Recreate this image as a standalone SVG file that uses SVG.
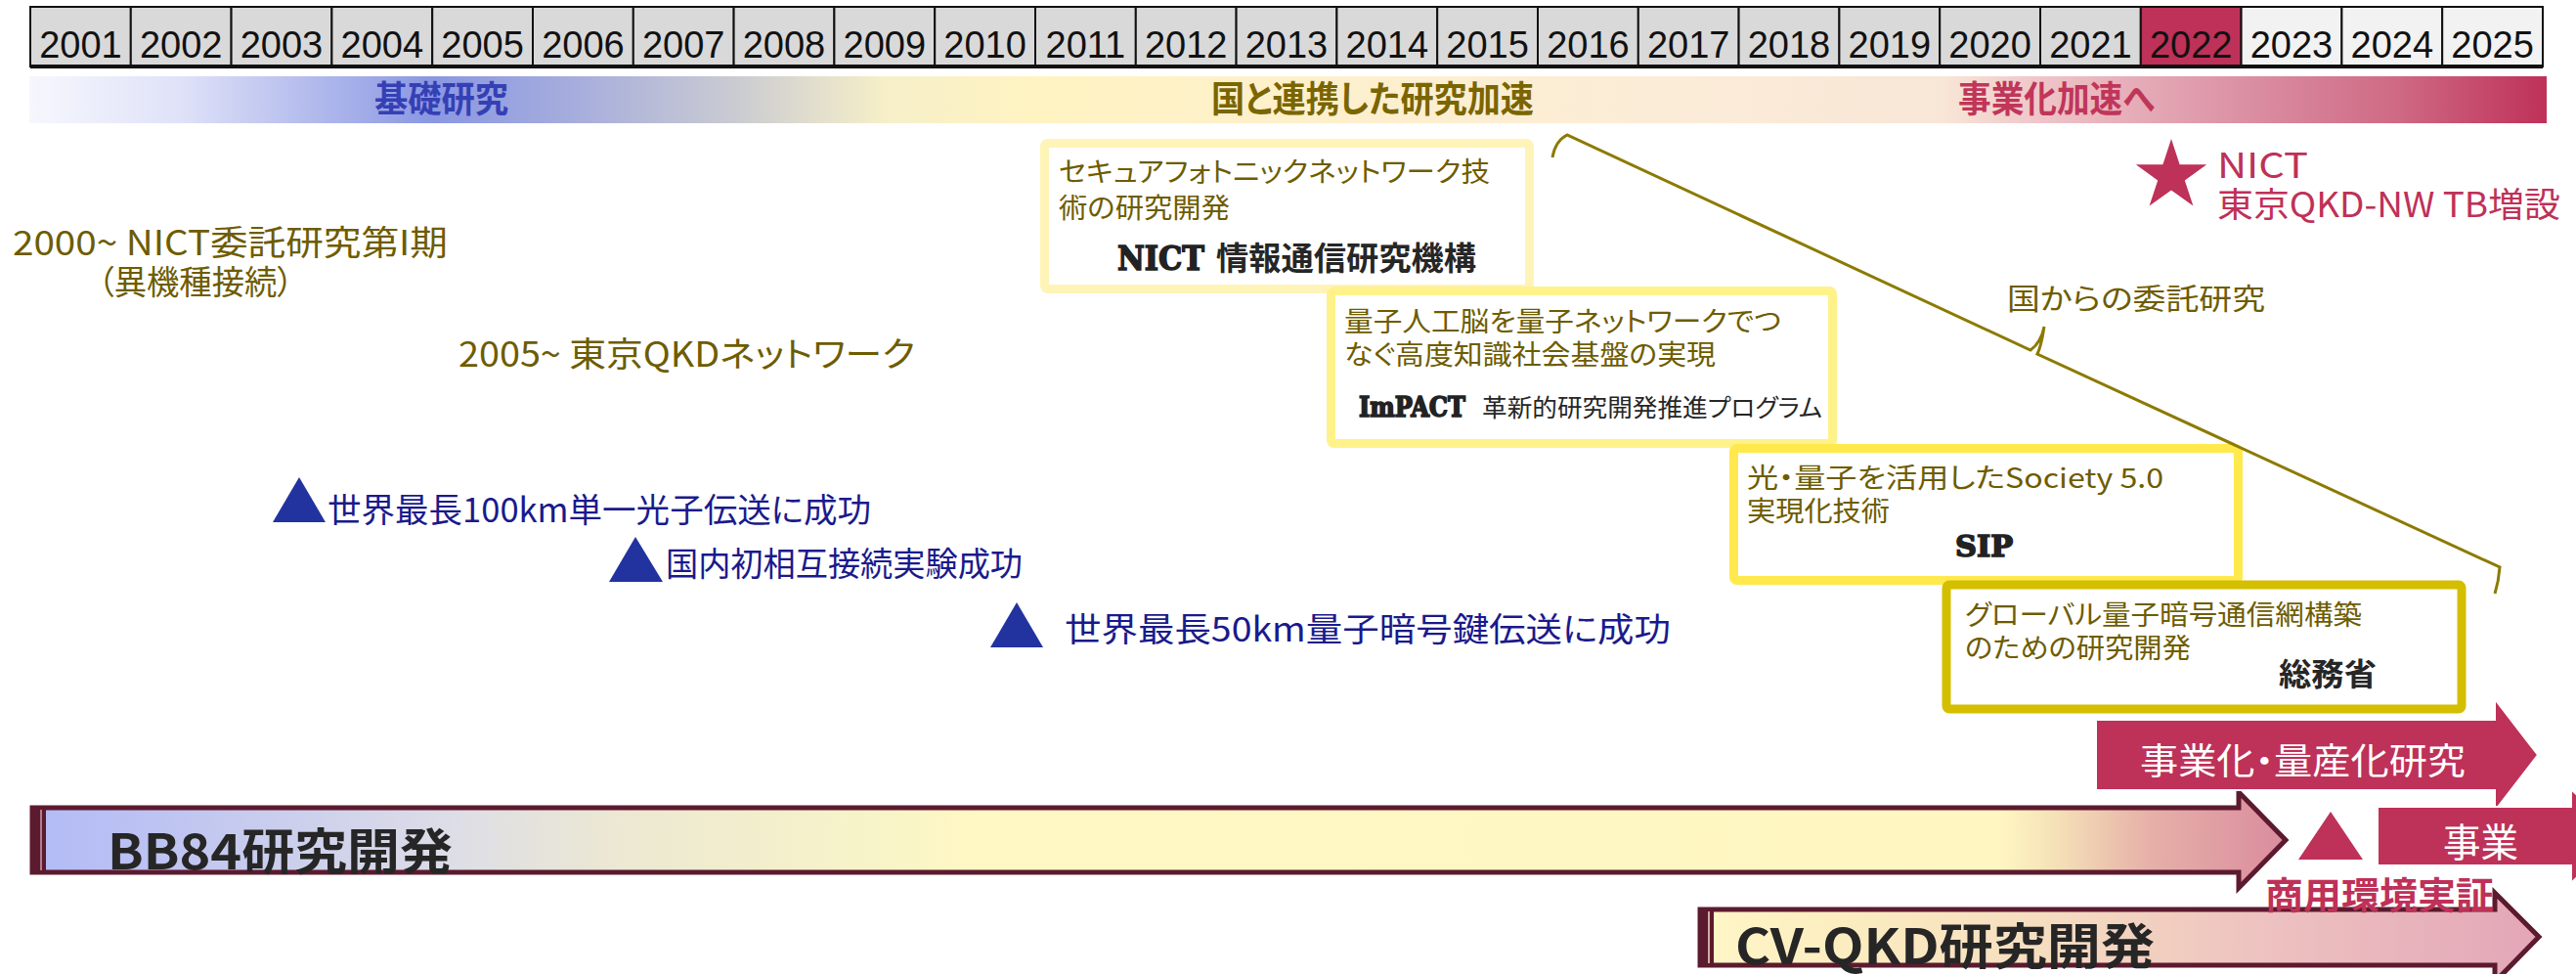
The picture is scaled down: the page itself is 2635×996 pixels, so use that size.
<svg xmlns="http://www.w3.org/2000/svg" width="2635" height="996" viewBox="0 0 2635 996">
<defs>
<style>
.yr{font-family:"Liberation Sans","Noto Sans",sans-serif;font-size:38px;fill:#111;text-anchor:middle}
.jp{font-family:"Noto Sans CJK JP","Noto Sans",sans-serif;font-feature-settings:"palt"}
.band{font-size:37px;font-weight:bold}
.olive{fill:#6e5c00}
.navy{fill:#1a1a8c}
.dark{fill:#262626}
.crim{fill:#be3158}
.white{fill:#ffffff}
.slab{font-family:"DejaVu Serif","Liberation Serif",serif;font-weight:bold;fill:#222;stroke:#222;stroke-width:1.6px}
.cell{stroke:#111;stroke-width:2}
.box{fill:#ffffff;stroke-width:9}
.tri{fill:#2233a0}
</style>
<linearGradient id="gBand" gradientUnits="userSpaceOnUse" x1="30" y1="0" x2="2605" y2="0">
<stop offset="0" stop-color="#f6f7fd"/>
<stop offset="0.06" stop-color="#dfe2f8"/>
<stop offset="0.16" stop-color="#8a97e2"/>
<stop offset="0.22" stop-color="#a8afdc"/>
<stop offset="0.28" stop-color="#cacbd2"/>
<stop offset="0.34" stop-color="#f6efc8"/>
<stop offset="0.40" stop-color="#fff3c2"/>
<stop offset="0.65" stop-color="#fbecd8"/>
<stop offset="0.76" stop-color="#f8e6d6"/>
<stop offset="0.80" stop-color="#efc4c8"/>
<stop offset="0.87" stop-color="#dd96a8"/>
<stop offset="0.94" stop-color="#cf6a85"/>
<stop offset="1" stop-color="#be3158"/>
</linearGradient>
<linearGradient id="gBB" gradientUnits="userSpaceOnUse" x1="33" y1="0" x2="2338" y2="0">
<stop offset="0" stop-color="#b2bbf6"/>
<stop offset="0.05" stop-color="#bcc2f2"/>
<stop offset="0.19" stop-color="#dedee6"/>
<stop offset="0.26" stop-color="#ece8d2"/>
<stop offset="0.376" stop-color="#f8f4c8"/>
<stop offset="0.42" stop-color="#fff8c4"/>
<stop offset="0.873" stop-color="#fff6c2"/>
<stop offset="0.897" stop-color="#f5e2b8"/>
<stop offset="0.94" stop-color="#e6b0a8"/>
<stop offset="1" stop-color="#da8c9e"/>
</linearGradient>
<linearGradient id="gCV" gradientUnits="userSpaceOnUse" x1="1739" y1="0" x2="2597" y2="0">
<stop offset="0" stop-color="#fff6c6"/>
<stop offset="0.19" stop-color="#fbecc0"/>
<stop offset="0.42" stop-color="#f5dcc0"/>
<stop offset="0.65" stop-color="#eec4c0"/>
<stop offset="1" stop-color="#e3a6b8"/>
</linearGradient>
</defs>
<rect x="0" y="0" width="2635" height="996" fill="#ffffff"/>

<g id="year-header">
<rect class="cell" x="31" y="7" width="102.8" height="61" fill="#d9d9d9"/>
<rect class="cell" x="133.8" y="7" width="102.8" height="61" fill="#d9d9d9"/>
<rect class="cell" x="236.6" y="7" width="102.8" height="61" fill="#d9d9d9"/>
<rect class="cell" x="339.4" y="7" width="102.8" height="61" fill="#d9d9d9"/>
<rect class="cell" x="442.2" y="7" width="102.8" height="61" fill="#d9d9d9"/>
<rect class="cell" x="545" y="7" width="102.8" height="61" fill="#d9d9d9"/>
<rect class="cell" x="647.8" y="7" width="102.8" height="61" fill="#d9d9d9"/>
<rect class="cell" x="750.6" y="7" width="102.8" height="61" fill="#d9d9d9"/>
<rect class="cell" x="853.4" y="7" width="102.8" height="61" fill="#d9d9d9"/>
<rect class="cell" x="956.2" y="7" width="102.8" height="61" fill="#d9d9d9"/>
<rect class="cell" x="1059" y="7" width="102.8" height="61" fill="#d9d9d9"/>
<rect class="cell" x="1161.8" y="7" width="102.8" height="61" fill="#d9d9d9"/>
<rect class="cell" x="1264.6" y="7" width="102.8" height="61" fill="#d9d9d9"/>
<rect class="cell" x="1367.4" y="7" width="102.8" height="61" fill="#d9d9d9"/>
<rect class="cell" x="1470.2" y="7" width="102.8" height="61" fill="#d9d9d9"/>
<rect class="cell" x="1573" y="7" width="102.8" height="61" fill="#d9d9d9"/>
<rect class="cell" x="1675.8" y="7" width="102.8" height="61" fill="#d9d9d9"/>
<rect class="cell" x="1778.6" y="7" width="102.8" height="61" fill="#d9d9d9"/>
<rect class="cell" x="1881.4" y="7" width="102.8" height="61" fill="#d9d9d9"/>
<rect class="cell" x="1984.2" y="7" width="102.8" height="61" fill="#d9d9d9"/>
<rect class="cell" x="2087" y="7" width="102.8" height="61" fill="#d9d9d9"/>
<rect class="cell" x="2189.8" y="7" width="102.8" height="61" fill="#be3158"/>
<rect class="cell" x="2292.6" y="7" width="102.8" height="61" fill="#f2f2f2"/>
<rect class="cell" x="2395.4" y="7" width="102.8" height="61" fill="#f2f2f2"/>
<rect class="cell" x="2498.2" y="7" width="102.8" height="61" fill="#f2f2f2"/>
<line x1="31" y1="68" x2="2601" y2="68" stroke="#111" stroke-width="4"/>
<text class="yr" x="82.4" y="59">2001</text>
<text class="yr" x="185.2" y="59">2002</text>
<text class="yr" x="288" y="59">2003</text>
<text class="yr" x="390.8" y="59">2004</text>
<text class="yr" x="493.6" y="59">2005</text>
<text class="yr" x="596.4" y="59">2006</text>
<text class="yr" x="699.2" y="59">2007</text>
<text class="yr" x="802" y="59">2008</text>
<text class="yr" x="904.8" y="59">2009</text>
<text class="yr" x="1007.6" y="59">2010</text>
<text class="yr" x="1110.4" y="59">2011</text>
<text class="yr" x="1213.2" y="59">2012</text>
<text class="yr" x="1316" y="59">2013</text>
<text class="yr" x="1418.8" y="59">2014</text>
<text class="yr" x="1521.6" y="59">2015</text>
<text class="yr" x="1624.4" y="59">2016</text>
<text class="yr" x="1727.2" y="59">2017</text>
<text class="yr" x="1830" y="59">2018</text>
<text class="yr" x="1932.8" y="59">2019</text>
<text class="yr" x="2035.6" y="59">2020</text>
<text class="yr" x="2138.4" y="59">2021</text>
<text class="yr" x="2241.2" y="59">2022</text>
<text class="yr" x="2344" y="59">2023</text>
<text class="yr" x="2446.8" y="59">2024</text>
<text class="yr" x="2549.6" y="59">2025</text>
</g>

<g id="phase-band">
<rect x="30" y="78" width="2575" height="48" fill="url(#gBand)"/>
<text class="jp band" x="383" y="115" textLength="137" lengthAdjust="spacingAndGlyphs" fill="#3540b5">基礎研究</text>
<text class="jp band" x="1239" y="115" textLength="330" lengthAdjust="spacingAndGlyphs" fill="#7a6500">国と連携した研究加速</text>
<text class="jp band" x="2003" y="115" textLength="201" lengthAdjust="spacingAndGlyphs" fill="#c0365a">事業化加速へ</text>
</g>

<g id="nict-phase1">
<text class="jp olive" x="13" y="261" font-size="35" textLength="445" lengthAdjust="spacingAndGlyphs">2000~ NICT委託研究第I期</text>
<text class="jp olive" x="100" y="301" font-size="34" textLength="200" lengthAdjust="spacingAndGlyphs">（異機種接続）</text>
</g>
<g id="tokyo-qkd-2005">
<text class="jp olive" x="469" y="375" font-size="35" textLength="467" lengthAdjust="spacingAndGlyphs">2005~ 東京QKDネットワーク</text>
</g>

<g id="box-nict">
<rect class="box" x="1068.5" y="146.5" width="496" height="149" rx="3" stroke="#fff4b8"/>
<text class="jp olive" x="1083" y="186" font-size="28" textLength="441" lengthAdjust="spacingAndGlyphs">セキュアフォトニックネットワーク技</text>
<text class="jp olive" x="1083" y="223" font-size="28" textLength="175" lengthAdjust="spacingAndGlyphs">術の研究開発</text>
<text class="slab" x="1143" y="276" font-size="34" textLength="89" lengthAdjust="spacingAndGlyphs">NICT</text>
<text class="jp dark" x="1244" y="276" font-size="33" font-weight="bold" textLength="266" lengthAdjust="spacingAndGlyphs">情報通信研究機構</text>
</g>

<g id="box-impact">
<rect class="box" x="1361.5" y="297.5" width="513" height="156" rx="3" stroke="#fff28a"/>
<text class="jp olive" x="1375" y="339" font-size="28" textLength="447" lengthAdjust="spacingAndGlyphs">量子人工脳を量子ネットワークでつ</text>
<text class="jp olive" x="1375" y="373" font-size="28" textLength="380" lengthAdjust="spacingAndGlyphs">なぐ高度知識社会基盤の実現</text>
<text class="slab" x="1390" y="426" font-size="27" textLength="109" lengthAdjust="spacingAndGlyphs">ImPACT</text>
<text class="jp dark" x="1516" y="426" font-size="25" textLength="348" lengthAdjust="spacingAndGlyphs">革新的研究開発推進プログラム</text>
</g>

<g id="box-sip">
<rect class="box" x="1773.5" y="458.5" width="516" height="135" rx="3" stroke="#ffe94d" stroke-width="10"/>
<text class="jp olive" x="1787" y="499" font-size="28" textLength="426" lengthAdjust="spacingAndGlyphs">光・量子を活用したSociety 5.0</text>
<text class="jp olive" x="1787" y="533" font-size="28" textLength="146" lengthAdjust="spacingAndGlyphs">実現化技術</text>
<text class="slab" x="2000" y="569" font-size="30" textLength="59" lengthAdjust="spacingAndGlyphs">SIP</text>
</g>

<g id="box-soumu">
<rect class="box" x="1991" y="598" width="527" height="127" rx="3" stroke="#d4be00" stroke-width="11"/>
<text class="jp olive" x="2010" y="639" font-size="28" textLength="406" lengthAdjust="spacingAndGlyphs">グローバル量子暗号通信網構築</text>
<text class="jp olive" x="2010" y="673" font-size="28" textLength="231" lengthAdjust="spacingAndGlyphs">のための研究開発</text>
<text class="jp dark" x="2331" y="701" font-size="32" font-weight="bold" textLength="100" lengthAdjust="spacingAndGlyphs">総務省</text>
</g>

<g id="connectors">
<path d="M1588,161 Q1591,144 1603,138 L2077,358 Q2088,350 2091,334 Q2088,354 2084,362 L2557,580 Q2556,594 2552,607" fill="none" stroke="#8c7a00" stroke-width="3"/>
</g>

<g id="itaku-label">
<text class="jp olive" x="2053" y="316" font-size="30" textLength="264" lengthAdjust="spacingAndGlyphs">国からの委託研究</text>
</g>

<g id="nict-tb">
<polygon class="crim" points="2221,142 2229.6,168.2 2257.2,168.2 2234.8,184.4 2243.4,210.6 2221,194.4 2198.6,210.6 2207.2,184.4 2184.8,168.2 2212.4,168.2"/>
<text class="jp crim" x="2268" y="182" font-size="36" textLength="93" lengthAdjust="spacingAndGlyphs">NICT</text>
<text class="jp crim" x="2268" y="222" font-size="35" textLength="351" lengthAdjust="spacingAndGlyphs">東京QKD-NW TB増設</text>
</g>

<g id="milestone-100km">
<polygon class="tri" points="306,488 279,534 333,534"/>
<text class="jp navy" x="335" y="534" font-size="34" textLength="556" lengthAdjust="spacingAndGlyphs">世界最長100km単一光子伝送に成功</text>
</g>
<g id="milestone-interop">
<polygon class="tri" points="650,549 623,595 678,595"/>
<text class="jp navy" x="681" y="589" font-size="34" textLength="365" lengthAdjust="spacingAndGlyphs">国内初相互接続実験成功</text>
</g>
<g id="milestone-50km">
<polygon class="tri" points="1040,616 1013,662 1067,662"/>
<text class="jp navy" x="1089" y="656" font-size="34" textLength="620" lengthAdjust="spacingAndGlyphs">世界最長50km量子暗号鍵伝送に成功</text>
</g>

<g id="arrow-bb84">
<path d="M33,826 L2290,826 L2290,810 L2338,859 L2290,908 L2290,892 L33,892 Z" fill="url(#gBB)" stroke="#5c1a2e" stroke-width="5" stroke-linejoin="miter"/>
<rect x="33" y="826" width="14" height="66" fill="#5c1a2e"/>
<line x1="42" y1="828" x2="42" y2="890" stroke="#c9a3b3" stroke-width="1.5"/>
<text class="jp dark" x="110" y="889" font-size="50" font-weight="bold" textLength="353" lengthAdjust="spacingAndGlyphs">BB84研究開発</text>
</g>

<g id="arrow-cvqkd">
<path d="M1739,930 L2552,930 L2552,913 L2597,958 L2552,1004 L2552,987 L1739,987 Z" fill="url(#gCV)" stroke="#5c1a2e" stroke-width="5"/>
<rect x="1739" y="930" width="14" height="57" fill="#5c1a2e"/>
<line x1="1748" y1="932" x2="1748" y2="985" stroke="#f3dcc0" stroke-width="1.5"/>
<text class="jp dark" x="1775" y="986" font-size="50" font-weight="bold" textLength="429" lengthAdjust="spacingAndGlyphs">CV-QKD研究開発</text>
</g>

<g id="arrow-commercial-research">
<path d="M2144,736 L2552,736 L2552,715 L2596,772 L2552,829 L2552,808 L2144,808 Z" fill="#be3158" stroke="#ffffff" stroke-width="2"/>
<text class="jp white" x="2189" y="792" font-size="37" textLength="333" lengthAdjust="spacingAndGlyphs">事業化・量産化研究</text>
</g>

<g id="arrow-business">
<path d="M2432,825 L2630,825 L2630,807 L2680,855 L2630,903 L2630,885 L2432,885 Z" fill="#be3158" stroke="#ffffff" stroke-width="2"/>
<text class="jp white" x="2499" y="876" font-size="40" textLength="77" lengthAdjust="spacingAndGlyphs">事業</text>
</g>

<g id="milestone-commercial">
<polygon class="crim" points="2384,830 2351,879 2417,879"/>
<text class="jp crim" x="2317" y="929" font-size="38" font-weight="bold" textLength="234" lengthAdjust="spacingAndGlyphs">商用環境実証</text>
</g>
</svg>
